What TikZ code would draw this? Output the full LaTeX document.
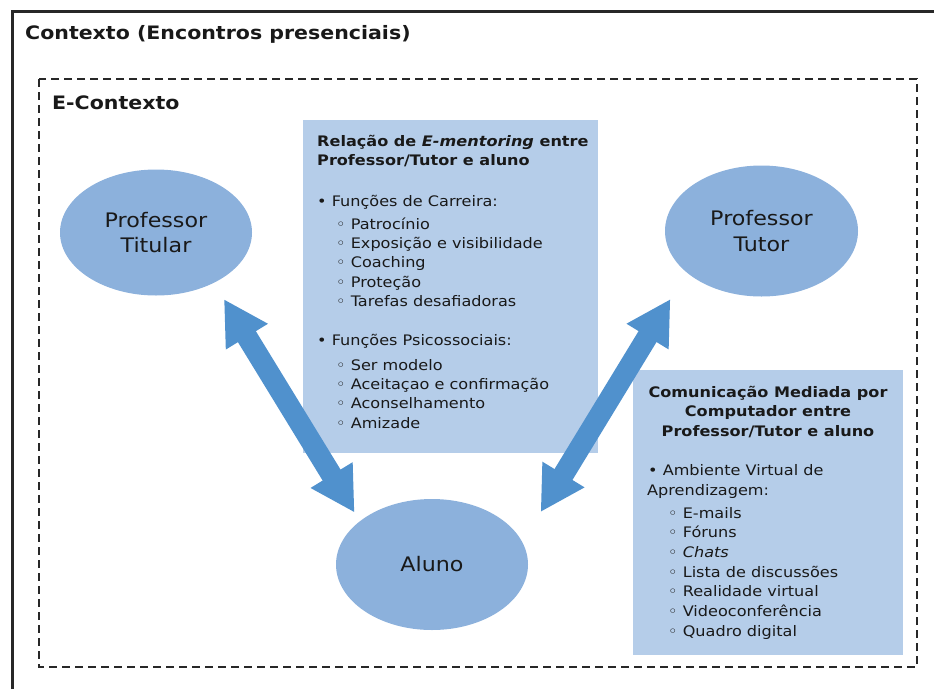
\documentclass[tikz,border=0pt]{standalone}
\usepackage{fontspec}
\setmainfont[FakeStretch=1.11]{DejaVu Sans}
\usetikzlibrary{arrows.meta,shapes.geometric}

\definecolor{ovalblue}{RGB}{140,177,220}
\definecolor{panelblue}{RGB}{181,205,233}
\definecolor{linkblue}{RGB}{80,145,205}
\definecolor{ink}{RGB}{25,25,25}
\definecolor{rim}{RGB}{40,40,40}

\begin{document}
\begin{tikzpicture}[
  x=1pt, y=-1pt,
  oval/.style={ellipse, fill=ovalblue, inner sep=0pt, align=center, text=ink,
    font=\fontsize{20}{25.3}\selectfont},
  panel/.style={fill=panelblue, inner sep=0pt},
  title/.style={anchor=base west, inner sep=0pt, text=ink, font=\bfseries\fontsize{18.5}{22}\selectfont},
  head/.style={inner sep=0pt, text=ink, font=\bfseries\fontsize{14.5}{19.5}\selectfont},
  item/.style={anchor=base west, inner sep=0pt, text=ink, font=\fontsize{14.5}{19.5}\selectfont},
  link/.style={linkblue, line width=21pt,
    {Triangle[length=44pt,width=46pt]}-{Triangle[length=44pt,width=46pt]}}
]
\useasboundingbox (0,0) rectangle (934,689);

% Frames
\draw[rim, line width=3pt] (12,689) -- (12,11) -- (934,11);
\draw[rim, line width=2.5pt, dash pattern=on 8pt off 5pt] (39,79) rectangle (917,667);
\node[title] (ctx) at (25,39) {Contexto (Encontros presenciais)};
\node[title] (ectx) at (52,109) {E-Contexto};

% Actors
\node[oval, minimum width=192pt, minimum height=126pt] (tit) at (156,232.5) {Professor\\Titular};
\node[oval, minimum width=193pt, minimum height=131pt] (tut) at (761.5,231) {Professor\\Tutor};
\node[oval, minimum width=192pt, minimum height=131pt] (alu) at (432,564.5) {Aluno};

% E-mentoring panel
\node[panel, minimum width=295pt, minimum height=333pt] (rel) at (450.5,286.5) {};
\node[head, anchor=base west] (relh1) at (317,146.5) {Relação de \textit{E-mentoring} entre};
\node[head, anchor=base west] (relh2) at (317,165.5) {Professor/Tutor e aluno};
\node[item] (carhd) at (317,206) {• Funções de Carreira:};
\foreach \t [count=\i from 0] in {Patrocínio, Exposição e visibilidade, Coaching, Proteção, Tarefas desafiadoras}
  \node[item] (car\i) at (336,229+19.4*\i) {◦ \t};
\node[item] (psihd) at (317,345) {• Funções Psicossociais:};
\foreach \t [count=\i from 0] in {Ser modelo, Aceitaçao e confirmação, Aconselhamento, Amizade}
  \node[item] (psi\i) at (336,370+19.4*\i) {◦ \t};

% CMC panel
\node[panel, minimum width=270pt, minimum height=285pt] (cmc) at (768,512.5) {};
\foreach \t [count=\i from 0] in {Comunicação Mediada por, Computador entre, Professor/Tutor e aluno}
  \node[head, anchor=base] (cmch\i) at (768,397+19.5*\i) {\t};
\node[item] (avahd) at (648,475) {• Ambiente Virtual de};
\node[item] (avahd2) at (647,495) {Aprendizagem:};
\foreach \t [count=\i from 0] in {E-mails, Fóruns, \textit{Chats}, Lista de discussões, Realidade virtual, Videoconferência, Quadro digital}
  \node[item] (ava\i) at (668,518+19.7*\i) {◦ \t};

% Links
\draw[link, shorten <=19pt, shorten >=10pt] (tit.-41) -- (alu.149);
\draw[link, shorten <=31pt, shorten >=35pt] (tut.209) -- (alu.14);

\end{tikzpicture}
\end{document}
